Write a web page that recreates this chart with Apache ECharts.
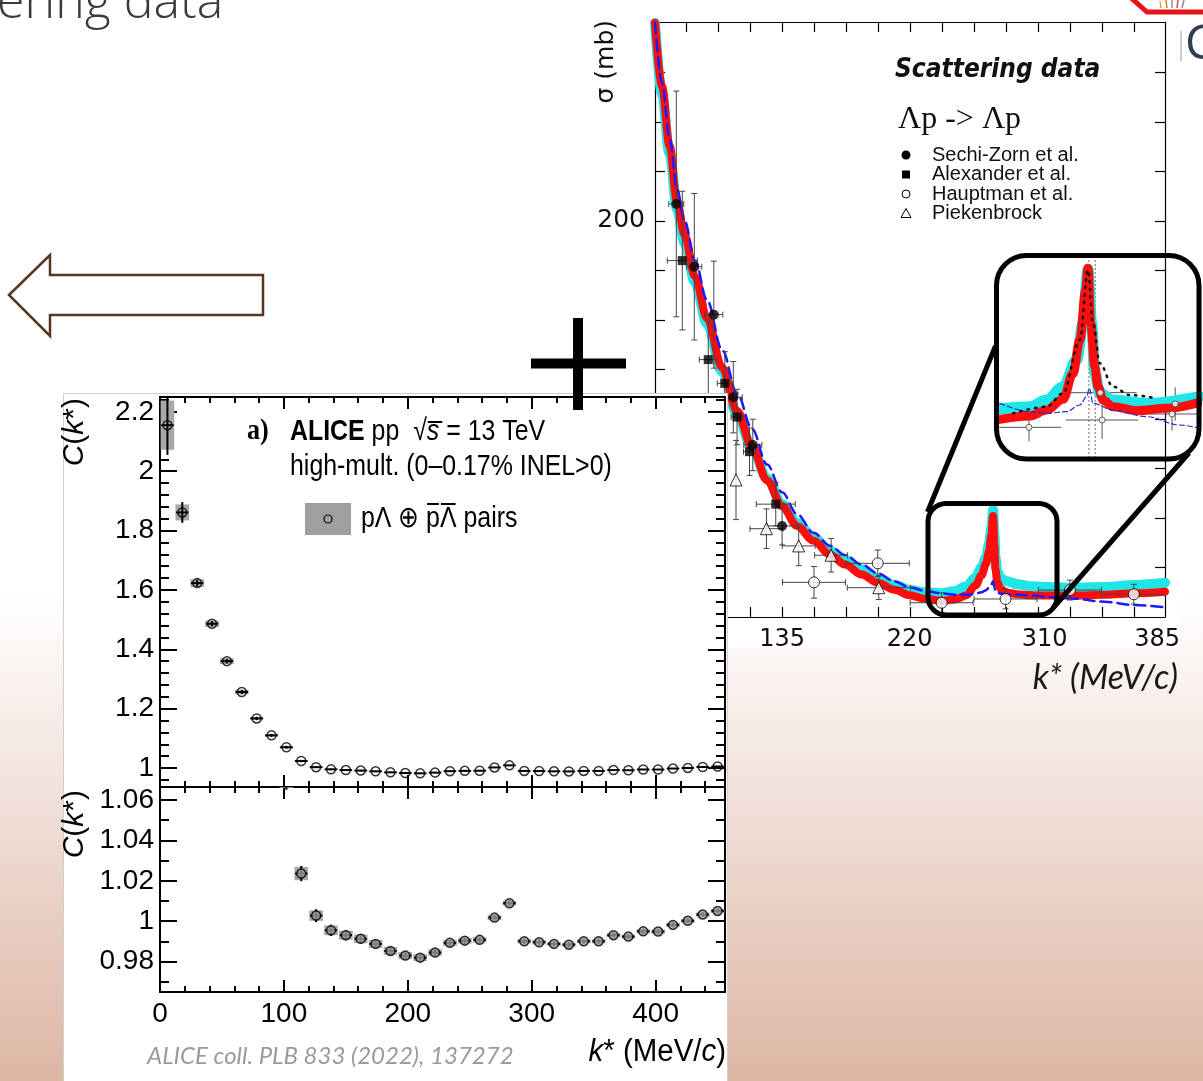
<!DOCTYPE html>
<html><head><meta charset="utf-8">
<script src="https://cdn.jsdelivr.net/npm/echarts@6/dist/echarts.min.js"></script>
<style>html,body{margin:0;padding:0;background:#fff}#c{width:1203px;height:1081px}</style>
</head><body><div id="c"></div>
<script>
// ===== ALICE p-Lambda correlation function =====
const kStar = [6,18,30,42,54,66,78,90,102,114,126,138,150,162,174,186,198,210,222,234,246,258,270,282,294,306,318,330,342,354,366,378,390,402,414,426,438,450];
const cValues = [2.155,1.861,1.623,1.486,1.360,1.256,1.167,1.110,1.070,1.0236,1.0028,0.9955,0.9931,0.9913,0.9888,0.9853,0.9830,0.9820,0.9845,0.9893,0.9904,0.9908,1.0018,1.0089,0.9901,0.9896,0.9888,0.9884,0.9901,0.9901,0.9931,0.9924,0.9950,0.9949,0.9982,1.0002,1.0033,1.0051];
const cStatErr = [0.10,0.035,0.012,0.009,0.008,0.007,0.006,0.005,0.005,0.0038,0.0032,0.0028,0.0025,0.0023,0.0021,0.0020,0.0019,0.0018,0.0017,0.0016,0.0016,0.0015,0.0015,0.0015,0.0014,0.0014,0.0013,0.0013,0.0013,0.0013,0.0012,0.0012,0.0012,0.0012,0.0012,0.0012,0.0012,0.0012];
const cSystErr = [0.083,0.027,0.013,0.011,0.010,0.008,0.004,0.004,0.004,0.0033,0.0026,0.0024,0.0022,0.0021,0.0020,0.0019,0.0018,0.0017,0.0016,0.0015,0.0014,0.0013,0.0012,0.0011,0.0011,0.0011,0.0010,0.0010,0.0010,0.0010,0.0010,0.0010,0.0010,0.0010,0.0010,0.0010,0.0010,0.0010];
const kHalfErr = 5;     // horizontal error bar half width (MeV/c)
const kHalfBox = 5.5;   // systematic box half width (MeV/c)
const aliceXMajor = [0,100,200,300,400];
const aliceXMinor = [20,40,60,80,120,140,160,180,220,240,260,280,320,340,360,380,420,440];
const topYMajor = [1,1.2,1.4,1.6,1.8,2,2.2];
const topYMinor = [0.96,1.04,1.08,1.12,1.16,1.24,1.28,1.32,1.36,1.44,1.48,1.52,1.56,1.64,1.68,1.72,1.76,1.84,1.88,1.92,1.96,2.04,2.08,2.12,2.16,2.24];
const botYMajor = [0.98,1,1.02,1.04,1.06];
const botYMinor = [0.97,0.99,1.01,1.03,1.05];

// ===== Lambda p scattering cross section =====
// [k*, sigma, k err, sigma err]
const sechiZorn = [[64.5,208.6,5,57],[76.5,176.9,5,37],[89.5,152.7,6,27],[102.5,111,6,18],[115.5,86.9,6,13],[135,46,10,9.6]];
const alexander = [[68.5,180,10,35],[85.8,130,6,20],[96.8,118,5,16],[105,101,4,14],[113.3,83.5,4,12],[130.8,57,13,11]];
const hauptman = [[156.3,17.5,21,8],[198.8,27.1,21,6.7],[241.4,7.2,21,5],[284,9.1,21,5],[326.9,13.6,21,5],[369.5,11.5,21,5]];
const piekenbrock = [[104.3,69.2,0,20],[124.6,44.6,11,10],[146.1,35.9,11,10],[167.7,31.2,11,8.5],[199.5,14.8,21,6]];
const scatNames = ['Sechi-Zorn et al.','Alexander et al.','Hauptman et al.','Piekenbrock'];
const curveK = [50.3,55,60,65,70,77,85,95,105,115,125,135,145,156,167,177,188,199,210,220,230,241,250,258,264,268,271,273,274.5,275.7,276.5,277.3,278.5,281,285,292,302,315,330,350,370,390.3];
const curveRed = [300,268,238,210,193,172,151,126,104,86,69,56,46,38.5,31.5,26.5,21.5,17.2,13.8,11,9.2,8.2,8.8,11,16,21,27,33,41,51,36,24,17.5,14,12.3,11.5,11,10.8,10.8,11.3,12,12.8];
const curveCyan = [300,264,234,206,189,169,148,124,102.5,85.5,70,57,47.5,40,33.5,28.8,24,19.5,16.2,13.6,12.5,12,13,15.5,20,25,30,37,45,54,42,30,23,19.5,18,16.5,15.5,15,14.8,15.2,16.2,17.3];
const curveBlue = [300,270,242,216,200,180,160,135,113,95,77,63,52,42.5,36,31.3,26.5,22,18,15,13.3,12,11.3,11.2,11.8,12.5,13.5,15,16.5,18,15,13,12.2,11.8,11.5,11.2,10.8,10,9.2,7.7,6,4.9];
const sTickK = [70.9,92.2,113.6,134.9,156.2,177.6,198.9,220.2,241.6,262.9,284.2,305.6,326.9,348.2,369.6];
const sLabelK = [135,220,310,385];
const sigmaTicks = [25,50,75,100,125,150,175,200,225,250,275];
const sigmaLabels = [200];
// zoomed inset around the cusp
const insetCyan = [[256,14.7],[262.6,15.4],[266.3,17.4],[269.9,21.4],[272.9,29.4],[274.3,40.4],[275.4,56.6],[276.2,40.4],[276.9,25.4],[278,19.4],[280.9,17.4],[288.3,16.4],[300,18.4]];
const insetRed = [[256,11.6],[262.6,12.6],[266.3,14.4],[269.9,17.6],[272.1,25.4],[273.6,35.4],[274.9,50.4],[275.4,56.9],[276,40.4],[276.9,27.4],[277.6,21.4],[278.7,17.4],[280.9,15.4],[286.1,14.2],[292.7,14.9],[300,16.7]];
const insetDotted = [[258.9,13.4],[266.3,15.4],[269.9,19.4],[273.6,35.4],[275.4,56.4],[276.5,40.4],[278,28.4],[280.9,21.4],[284.6,18.9],[290.5,17.9]];
const insetBlue = [[256,16.4],[262.6,13.9],[266.3,13.4],[270.7,13.9],[273.6,15.9],[275.1,18.4],[275.7,20.9],[276.5,16.4],[280.9,14.4],[288.3,12.4],[295.6,9.9],[300,8.9]];
const insetThresholds = [275.6,277.0];
const insetPoints = [[262.4,9.2,7.1,4.2],[278.5,11.4,8,5.7],[278.1,19.6,8,2.5],[293.9,13.2,7.1,5],[294.6,16.2,7,5]];

// ===== styling =====
const F = "'Liberation Sans',Arial,sans-serif";
const DJ = "'DejaVu Sans',sans-serif";
const NARROW = 0.83;

function ax(grid, pos, min, max, ticks, tickLen, labels, lab, line, z, lw) {
  return {
    type: 'value', gridIndex: grid, position: pos, min: min, max: max, z: z,
    axisLine: {show: line, onZero: false, lineStyle: {color: '#000', width: lw}},
    axisTick: ticks ? {show: true, inside: true, length: tickLen, customValues: ticks, lineStyle: {color: '#000', width: lw}} : {show: false},
    axisLabel: labels ? Object.assign({show: true, customValues: labels}, lab) : {show: false},
    splitLine: {show: false}, minorTick: {show: false}
  };
}

const sXmin = 50.3, sXmax = 390.3, sYmin = 0, sYmax = 300.5;
const tXmin = 0, tXmax = 456;
const topYmin = 0.936, topYmax = 2.25;
const botYmin = 0.965, botYmax = 1.0664;
const labA = {fontFamily: F, fontSize: 28, color: '#000'};
const labS = {fontFamily: DJ, fontSize: 24, color: '#111'};

const xAxis = [
  ax(0,'bottom',sXmin,sXmax,sTickK,10,sLabelK,Object.assign({margin:11},labS),true,3,1.2),
  ax(0,'top',sXmin,sXmax,sTickK,10,null,null,true,3,1.2),
  {type:'value', gridIndex:1, min:255.8, max:299.4, show:false},
  ax(2,'bottom',tXmin,tXmax,aliceXMajor,12,null,null,true,20,2),
  ax(2,'bottom',tXmin,tXmax,aliceXMinor,6,null,null,false,20,2),
  ax(2,'top',tXmin,tXmax,aliceXMajor,12,null,null,true,20,2),
  ax(2,'top',tXmin,tXmax,aliceXMinor,6,null,null,false,20,2),
  ax(3,'bottom',tXmin,tXmax,aliceXMajor,12,aliceXMajor,Object.assign({margin:8},labA),true,20,2),
  ax(3,'bottom',tXmin,tXmax,aliceXMinor,6,null,null,false,20,2),
  ax(3,'top',tXmin,tXmax,aliceXMajor,12,null,null,true,20,2),
  ax(3,'top',tXmin,tXmax,aliceXMinor,6,null,null,false,20,2)
];
const yAxis = [
  ax(0,'left',sYmin,sYmax,sigmaTicks,10,sigmaLabels,Object.assign({margin:10},{fontFamily:DJ,fontSize:25,color:'#111'}),true,3,1.2),
  ax(0,'right',sYmin,sYmax,sigmaTicks,10,null,null,true,3,1.2),
  {type:'value', gridIndex:1, min:0, max:60, show:false},
  ax(2,'left',topYmin,topYmax,topYMajor,17,topYMajor,Object.assign({margin:6},labA),true,20,2),
  ax(2,'left',topYmin,topYmax,topYMinor,9,null,null,false,20,2),
  ax(2,'right',topYmin,topYmax,topYMajor,17,null,null,true,20,2),
  ax(2,'right',topYmin,topYmax,topYMinor,9,null,null,false,20,2),
  ax(3,'left',botYmin,botYmax,botYMajor,17,botYMajor,Object.assign({margin:6},labA),true,20,2),
  ax(3,'left',botYmin,botYmax,botYMinor,9,null,null,false,20,2),
  ax(3,'right',botYmin,botYmax,botYMajor,17,null,null,true,20,2),
  ax(3,'right',botYmin,botYmax,botYMinor,9,null,null,false,20,2)
];

function errRender(color, lw, cap) {
  return function (params, api) {
    const x = api.value(0), y = api.value(1), ex = api.value(2), ey = api.value(3);
    const L = api.coord([x - ex, y]), R = api.coord([x + ex, y]);
    const T = api.coord([x, y + ey]), B = api.coord([x, y - ey]);
    const st = {stroke: color, lineWidth: lw};
    const ch = [];
    if (ex > 0) {
      ch.push({type: 'line', shape: {x1: L[0], y1: L[1], x2: R[0], y2: R[1]}, style: st});
      if (cap) {
        ch.push({type: 'line', shape: {x1: L[0], y1: L[1] - cap, x2: L[0], y2: L[1] + cap}, style: st});
        ch.push({type: 'line', shape: {x1: R[0], y1: R[1] - cap, x2: R[0], y2: R[1] + cap}, style: st});
      }
    }
    if (ey > 0) {
      ch.push({type: 'line', shape: {x1: T[0], y1: T[1], x2: B[0], y2: B[1]}, style: st});
      if (cap) {
        ch.push({type: 'line', shape: {x1: T[0] - cap, y1: T[1], x2: T[0] + cap, y2: T[1]}, style: st});
        ch.push({type: 'line', shape: {x1: B[0] - cap, y1: B[1], x2: B[0] + cap, y2: B[1]}, style: st});
      }
    }
    return {type: 'group', children: ch};
  };
}
function boxRender(params, api) {
  const x = api.value(0), y = api.value(1), sx = api.value(2), sy = api.value(3);
  const a = api.coord([x - sx, y + sy]), b = api.coord([x + sx, y - sy]);
  return {type: 'rect', shape: {x: a[0], y: a[1], width: b[0] - a[0], height: b[1] - a[1]}, style: {fill: '#a8a8a8'}};
}
function vlineRender(params, api) {
  const k = api.value(0);
  const a = api.coord([k, 0]), b = api.coord([k, 60]);
  return {type: 'line', shape: {x1: a[0], y1: a[1], x2: b[0], y2: b[1]}, style: {stroke: '#8a8a8a', lineWidth: 1.2, lineDash: [2, 2]}};
}

const aliceErr = kStar.map((k, i) => [k, cValues[i], kHalfErr, cStatErr[i]]);
const aliceBox = kStar.map((k, i) => [k, cValues[i], kHalfBox, cSystErr[i]]);
const alicePts = kStar.map((k, i) => [k, cValues[i]]);
const zip = (xs, ys) => xs.map((x, i) => [x, ys[i]]);

function lineS(name, xi, yi, data, color, width, type, z) {
  return {name: name, type: 'line', xAxisIndex: xi, yAxisIndex: yi, data: data, showSymbol: false, symbol: 'none',
    smooth: 0.35, smoothMonotone: 'x', z: z, clip: true, silent: true,
    lineStyle: {color: color, width: width, type: type, cap: 'round', join: 'round'}};
}
function aliceSeries(xi, yi, fill) {
  return [
    {type: 'custom', xAxisIndex: xi, yAxisIndex: yi, renderItem: boxRender, data: aliceBox, clip: true, z: 21, silent: true},
    {type: 'custom', xAxisIndex: xi, yAxisIndex: yi, renderItem: errRender('#000', 2, 0), data: aliceErr, clip: true, z: 22, silent: true},
    {type: 'scatter', xAxisIndex: xi, yAxisIndex: yi, data: alicePts, symbol: 'circle', symbolSize: 9, clip: true, z: 23, silent: true,
      itemStyle: {color: fill, borderColor: '#000', borderWidth: 1.5}}
  ];
}

const scatMarker = [
  {symbol: 'circle', size: 10, color: '#000', border: 0},
  {symbol: 'rect', size: 9, color: '#000', border: 0},
  {symbol: 'circle', size: 11, color: '#fff', border: 1},
  {symbol: 'triangle', size: 12, color: '#fff', border: 1}
];
const scatSets = [sechiZorn, alexander, hauptman, piekenbrock];

const series = [
  lineS('cyanBand', 0, 0, zip(curveK, curveCyan), '#1ee6e6', 10, 'solid', 3),
  lineS('redBand', 0, 0, zip(curveK, curveRed), '#ff0d0d', 8, 'solid', 3),
  lineS('blueDash', 0, 0, zip(curveK, curveBlue), '#1a1aff', 2.5, [11, 6], 3),
  {type: 'custom', xAxisIndex: 0, yAxisIndex: 0, renderItem: errRender('#444', 1, 3), clip: true, z: 4, silent: true,
    data: [].concat(sechiZorn, alexander, hauptman, piekenbrock)}
].concat(scatSets.map((set, i) => ({
  name: scatNames[i], type: 'scatter', xAxisIndex: 0, yAxisIndex: 0, symbol: scatMarker[i].symbol, symbolSize: scatMarker[i].size, z: 5,
  data: set.map(d => [d[0], d[1]]),
  itemStyle: {color: scatMarker[i].color, borderColor: '#000', borderWidth: scatMarker[i].border}
}))).concat([
  // inset
  lineS('insetCyan', 2, 2, insetCyan, '#1ee6e6', 11, 'solid', 6),
  lineS('insetRed', 2, 2, insetRed, '#ff0d0d', 9, 'solid', 6),
  lineS('insetDotted', 2, 2, insetDotted, '#111', 2.5, [1.5, 6], 6),
  lineS('insetBlue', 2, 2, insetBlue, '#2a2ad0', 1.2, [5, 3], 6),
  {type: 'custom', xAxisIndex: 2, yAxisIndex: 2, renderItem: vlineRender, data: insetThresholds.map(k => [k]), clip: true, z: 6, silent: true},
  {type: 'custom', xAxisIndex: 2, yAxisIndex: 2, renderItem: errRender('#555', 1, 0), data: insetPoints, clip: true, z: 6, silent: true},
  {type: 'scatter', xAxisIndex: 2, yAxisIndex: 2, symbol: 'circle', symbolSize: 6, z: 7, silent: true,
    data: insetPoints.map(d => [d[0], d[1]]), itemStyle: {color: '#fff', borderColor: '#444', borderWidth: 1}}
]).concat(aliceSeries(3, 3, 'rgba(0,0,0,0)'), aliceSeries(7, 7, '#9c9c9c'));

const T = (x, y, text, style, extra) => Object.assign({type: 'text', x: x, y: y, z: 30,
  style: Object.assign({text: text, fill: '#000', align: 'left', verticalAlign: 'middle', textAlign: 'left', textVerticalAlign: 'middle'}, style)}, extra || {});

// legend of the scattering panel (marker + label rows)
const legY = [155, 174.5, 194, 213.5];
const legendMarks = [
  {type: 'circle', z: 6, shape: {cx: 906, cy: legY[0], r: 4.5}, style: {fill: '#000'}},
  {type: 'rect', z: 6, shape: {x: 902, y: legY[1] - 4, width: 8, height: 8}, style: {fill: '#000'}},
  {type: 'circle', z: 6, shape: {cx: 906, cy: legY[2], r: 4}, style: {fill: '#fff', stroke: '#000', lineWidth: 1}},
  {type: 'polygon', z: 6, shape: {points: [[906, legY[3] - 5], [911, legY[3] + 4], [901, legY[3] + 4]]}, style: {fill: '#fff', stroke: '#000', lineWidth: 1}}
].concat(scatNames.map((n, i) => T(932, legY[i], n, {fontFamily: F, fontSize: 20, fill: '#111'}, {z: 6})));

// overline bars of the antiparticle symbols (measured from the text font)
const mctx = document.createElement('canvas').getContext('2d');
mctx.font = "30px 'Liberation Sans',Arial,sans-serif";
const mw = s => mctx.measureText(s).width * NARROW;
const legX0 = 361, pre = mw('pΛ ⊕ '), wp = mw('p'), wL = mw('Λ');
const overBars = [
  {type: 'line', z: 31, shape: {x1: legX0 + pre + 1, y1: 504, x2: legX0 + pre + wp - 1, y2: 504}, style: {stroke: '#000', lineWidth: 2}},
  {type: 'line', z: 31, shape: {x1: legX0 + pre + wp + 1, y1: 504, x2: legX0 + pre + wp + wL - 1, y2: 504}, style: {stroke: '#000', lineWidth: 2}}
];

const graphic = [
  // white plates of the two figures
  {type: 'rect', z: 0, shape: {x: 583, y: 0, width: 597, height: 648}, style: {fill: '#fff'}},
  {type: 'rect', z: 10, shape: {x: 63.5, y: 393.5, width: 664, height: 700}, style: {fill: '#fff', stroke: '#cfcfcf', lineWidth: 1}},
  // slide title (cut off)
  T(-3, 29, 'ering data', {fontFamily: "'Open Sans',sans-serif", fontWeight: 300, fontSize: 50, fill: '#3a3a3a', verticalAlign: 'bottom', textVerticalAlign: 'bottom'}),
  // logo fragment
  {type: 'polyline', z: 30, shape: {points: [[1130, -3], [1147, 12], [1210, 12]]}, style: {stroke: '#e3141b', lineWidth: 5, fill: 'none'}},
  {type: 'line', z: 30, shape: {x1: 1160, y1: 1, x2: 1161, y2: 8}, style: {stroke: '#f0a030', lineWidth: 1.5}},
  {type: 'line', z: 30, shape: {x1: 1166, y1: 0, x2: 1167, y2: 8}, style: {stroke: '#e67e22', lineWidth: 1.5}},
  {type: 'line', z: 30, shape: {x1: 1172, y1: 0, x2: 1172, y2: 8}, style: {stroke: '#8a8f99', lineWidth: 1.5}},
  {type: 'line', z: 30, shape: {x1: 1178, y1: 0, x2: 1177, y2: 8}, style: {stroke: '#d9443a', lineWidth: 1.5}},
  {type: 'line', z: 30, shape: {x1: 1184, y1: 0, x2: 1182, y2: 8}, style: {stroke: '#8a8f99', lineWidth: 1.5}},
  {type: 'rect', z: 30, shape: {x: 1180, y: 31, width: 2, height: 30}, style: {fill: '#c9ced4'}},
  T(1185, 45, 'C', {fontFamily: "'Open Sans',sans-serif", fontSize: 48, fill: '#2c3e50'}),
  // arrow
  {type: 'polygon', z: 30, shape: {points: [[9, 295], [50, 255], [50, 275], [263, 275], [263, 315], [50, 315], [50, 336]]},
    style: {fill: '#fff', stroke: '#5a3520', lineWidth: 2.5}},
  // plus sign
  {type: 'rect', z: 40, shape: {x: 531, y: 358.5, width: 95, height: 10}, style: {fill: '#000'}},
  {type: 'rect', z: 40, shape: {x: 573, y: 318, width: 10, height: 92}, style: {fill: '#000'}},
  // scattering figure texts
  T(606, 20, 'σ (mb)', {fontFamily: DJ, fontSize: 25, fill: '#111', align: 'right', textAlign: 'right'}, {rotation: Math.PI / 2}),
  T(895, 70, 'Scattering data', {fontFamily: DJ, fontSize: 26, fontWeight: 'bold', fontStyle: 'italic', fill: '#111'}, {scaleX: 0.9}),
  T(898, 120, 'Λp -> Λp', {fontFamily: "'Liberation Serif',serif", fontSize: 32, fill: '#111'}),
  T(1178, 678, 'k* (MeV/c)', {fontFamily: "Lato,'Open Sans',sans-serif", fontStyle: 'italic', fontSize: 34, fill: '#1a1a1a', align: 'right', textAlign: 'right'}),
  // zoom boxes
  {type: 'rect', z: 8, shape: {x: 928, y: 503.5, width: 129, height: 111.5, r: 18}, style: {fill: 'none', stroke: '#000', lineWidth: 5}},
  {type: 'rect', z: 8, shape: {x: 996.5, y: 255.5, width: 202.5, height: 203.5, r: 30}, style: {fill: 'none', stroke: '#000', lineWidth: 5}},
  {type: 'line', z: 8, shape: {x1: 927.5, y1: 512, x2: 995.5, y2: 346}, style: {stroke: '#000', lineWidth: 5}},
  {type: 'line', z: 8, shape: {x1: 1053, y1: 608, x2: 1189, y2: 453}, style: {stroke: '#000', lineWidth: 5}},
  // ALICE figure texts
  T(247, 432, 'a)', {fontFamily: "'Liberation Serif',serif", fontWeight: 'bold', fontSize: 29}, {scaleX: 0.9}),
  T(290, 432, '{b|ALICE} pp  √{i|s\u0305} = 13 TeV', {fontFamily: F, fontSize: 30,
    rich: {b: {fontFamily: F, fontSize: 30, fontWeight: 'bold'}, i: {fontFamily: F, fontSize: 30, fontStyle: 'italic'}}}, {scaleX: NARROW}),
  T(290, 467, 'high-mult. (0–0.17% INEL>0)', {fontFamily: F, fontSize: 30}, {scaleX: NARROW}),
  {type: 'rect', z: 30, shape: {x: 305, y: 503, width: 46, height: 32}, style: {fill: '#a0a0a0'}},
  {type: 'circle', z: 31, shape: {cx: 328, cy: 519, r: 4}, style: {fill: '#a0a0a0', stroke: '#000', lineWidth: 1.2}},
  T(legX0, 519, 'pΛ ⊕ pΛ pairs', {fontFamily: F, fontSize: 30}, {scaleX: NARROW}),
  T(75, 398, '{i|C}({i|k}*)', {fontFamily: F, fontSize: 30, align: 'right', textAlign: 'right',
    rich: {i: {fontFamily: F, fontSize: 30, fontStyle: 'italic'}}}, {rotation: Math.PI / 2}),
  T(75, 790, '{i|C}({i|k}*)', {fontFamily: F, fontSize: 30, align: 'right', textAlign: 'right',
    rich: {i: {fontFamily: F, fontSize: 30, fontStyle: 'italic'}}}, {rotation: Math.PI / 2}),
  T(726, 1052, '{i|k}* (MeV/{i|c})', {fontFamily: F, fontSize: 31, align: 'right', textAlign: 'right',
    rich: {i: {fontFamily: F, fontSize: 31, fontStyle: 'italic'}}}, {scaleX: 0.95}),
  T(147, 1056, 'ALICE coll. PLB 833 (2022), 137272', {fontFamily: "Lato,'Open Sans',sans-serif", fontStyle: 'italic', fontSize: 24, fill: '#9a9a9a'})
].concat(legendMarks, overBars);

const chart = echarts.init(document.getElementById('c'), null, {renderer: 'canvas'});
chart.setOption({
  animation: false,
  backgroundColor: new echarts.graphic.LinearGradient(0, 0, 0, 1, [
    {offset: 0, color: '#ffffff'}, {offset: 0.55, color: '#ffffff'}, {offset: 1, color: '#ddb6a4'}]),
  grid: [
    {left: 655, top: 22, width: 510, height: 595},
    {left: 999, top: 258, width: 198, height: 200},
    {left: 160, top: 397, width: 565, height: 390},
    {left: 160, top: 787, width: 565, height: 205}
  ],
  xAxis: xAxis, yAxis: yAxis, series: series, graphic: graphic
});
</script></body></html>
